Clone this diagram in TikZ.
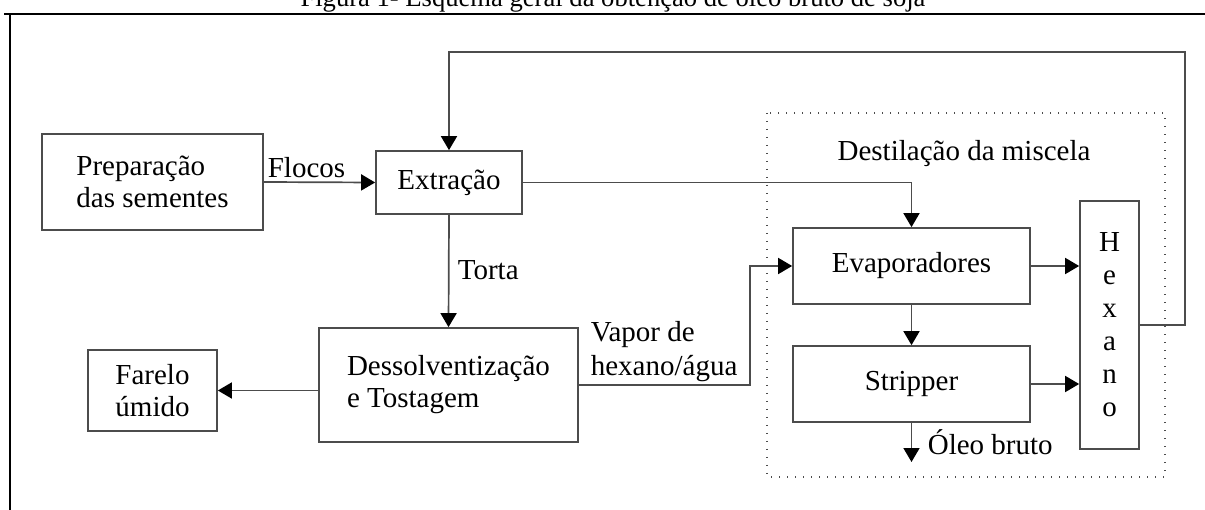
\documentclass[tikz,border=0pt]{standalone}
\usepackage{fontspec}
\setmainfont{Liberation Serif}
\usetikzlibrary{arrows.meta}

\begin{document}
\begin{tikzpicture}[x=1pt,y=-1pt,
    line width=1.7pt,
    box/.style={draw=black!70,minimum width=#1,inner sep=0pt},
    flow/.style={draw=black!70,-{Triangle[length=14pt,width=16pt,black]}},
    font=\fontsize{29}{32}\selectfont]
            \useasboundingbox (0,0) rectangle (1205,510);
            % moldura e titulo
            \node[anchor=base,font=\fontsize{26.6}{30}\selectfont] (titulo) at (613,7) {Figura 1- Esquema geral da obtenção de óleo bruto de soja};
            \draw[line width=2.2pt] (4,14) -- (1205,14) (10,14) -- (10,510);
            \draw[black!70,line width=1.4pt,dash pattern=on 1.4pt off 6.6pt] (767,113) rectangle (1165,477);
            % caixas
            \node[box=221pt,minimum height=96pt,align=left] (prep) at (152.5,182) {Preparação\\das sementes};
            \node[box=146pt,minimum height=63pt] (extr) at (449,182.5) {Extração};
            \node[box=259pt,minimum height=114pt,align=left] (dess) at (448.5,385) {Dessolventização\\e Tostagem};
            \node[box=129pt,minimum height=81pt,align=center] (farelo) at (152.5,390.5) {Farelo\\úmido};
            \node[box=237pt,minimum height=76pt] (evap) at (911.5,266) {Evaporadores};
            \node[box=237pt,minimum height=76pt] (strip) at (911.5,384) {Stripper};
            \node[box=59pt,minimum height=248pt,align=center,font=\fontsize{29}{33}\selectfont] (hex) at (1109.5,325) {H\\e\\x\\a\\n\\o};
            % rotulos
            \node[anchor=base] (dest) at (964,161) {Destilação da miscela};
            \node[anchor=base west,inner sep=0pt] (flocos) at (267,178) {Flocos};
            \node[anchor=base west,inner sep=0pt] (torta) at (457,280) {Torta};
            \node[anchor=base west,inner sep=0pt,align=left,font=\fontsize{29}{34}\selectfont] (vapor) at (590,376) {Vapor de\\hexano/água};
            \node[anchor=base west,inner sep=0pt] (oleo) at (927,454) {Óleo bruto};
            % pontos auxiliares
            \coordinate (rtop) at (1185,52);
            \coordinate (vup) at (750,266);
            \coordinate (osai) at (911.5,462);
            % ligacoes
            \draw[flow] (prep.east) -- (extr.west);
            \draw[flow] (extr.south) -- (dess.north);
            \draw[flow] (extr.east) -| (evap.north);
            \draw[flow] (farelo.east -| dess.west) -- (farelo.east);
            \draw[flow] (dess.east) -| (vup) -- (evap.west);
            \draw[flow] (evap.south) -- (strip.north);
            \draw[flow] (evap.east) -- (evap.east -| hex.west);
            \draw[flow] (strip.east) -- (strip.east -| hex.west);
            \draw[flow] (strip.south) -- (osai);
            \draw[flow] (hex.east) -| (rtop) -| (extr.north);
        \end{tikzpicture}
\end{document}
